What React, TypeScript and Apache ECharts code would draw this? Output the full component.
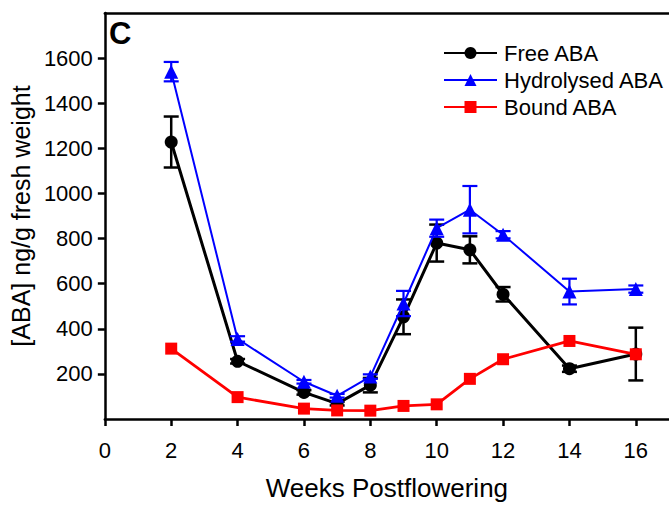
import React, { useEffect, useRef } from "react";
import * as echarts from "echarts";

// Sampling weeks after flowering
const weeks = [2, 4, 6, 7, 8, 9, 10, 11, 12, 14, 16];

// [ABA] ng/g fresh weight, means and standard errors
const freeABA = [1228, 256, 118, 68, 150, 453, 780, 750, 553, 223, 288];
const freeErr = [113, 10, 10, 8, 32, 77, 82, 60, 32, 14, 117];
const hydrolysedABA = [1540, 355, 165, 103, 188, 512, 846, 928, 817, 565, 576];
const hydrolysedErr = [43, 12, 8, 8, 10, 56, 38, 105, 16, 57, 16];
const boundABA = [312, 97, 46, 38, 37, 58, 65, 178, 265, 346, 287];

const xTicks = [0, 2, 4, 6, 8, 10, 12, 14, 16];
const yTicks = [200, 400, 600, 800, 1000, 1200, 1400, 1600];

const FONT = "Liberation Sans, Arial, sans-serif";

const pairs = (vals: number[]) => weeks.map((w, i) => [w, vals[i]]);
const errRows = (vals: number[], errs: number[]) =>
  weeks.map((w, i) => [w, vals[i] - errs[i], vals[i] + errs[i]]);

const errorBarSeries = (
  rows: number[][],
  color: string,
  width: number,
  z: number
) => ({
  type: "custom",
  z,
  data: rows,
  encode: { x: 0, y: [1, 2] },
  renderItem: (params: any, api: any) => {
    const lo = api.coord([api.value(0), api.value(1)]);
    const hi = api.coord([api.value(0), api.value(2)]);
    const half = 7.5;
    const style = { stroke: color, lineWidth: width };
    return {
      type: "group",
      children: [
        { type: "line", shape: { x1: lo[0], y1: lo[1], x2: hi[0], y2: hi[1] }, style },
        { type: "line", shape: { x1: lo[0] - half, y1: lo[1], x2: lo[0] + half, y2: lo[1] }, style },
        { type: "line", shape: { x1: hi[0] - half, y1: hi[1], x2: hi[0] + half, y2: hi[1] }, style },
      ],
    };
  },
});

export default function App() {
  const ref = useRef<HTMLDivElement>(null);

  useEffect(() => {
    if (!ref.current) return;
    const chart = echarts.init(ref.current, undefined, { renderer: "svg" });

    const axisLine = { show: true, lineStyle: { color: "#000", width: 2.5 } };

    chart.setOption({
      animation: false,
      backgroundColor: "#fff",
      textStyle: { fontFamily: FONT },
      grid: { left: 104, right: -3.6, top: 13, bottom: 87, containLabel: false },
      graphic: [
        {
          type: "text",
          left: 109,
          top: 18,
          style: {
            text: "C",
            fontFamily: FONT,
            fontSize: 31,
            fontWeight: "bold",
            fill: "#000",
          },
        },
      ],
      legend: {
        orient: "vertical",
        left: 438,
        top: 37,
        itemWidth: 53,
        itemHeight: 15,
        itemGap: 5,
        data: ["Free ABA", "Hydrolysed ABA", "Bound ABA"],
        textStyle: {
          fontFamily: FONT,
          fontSize: 22,
          color: "#000",
          padding: [0, 0, 0, 2],
        },
      },
      xAxis: [
        {
          type: "value",
          min: 0,
          max: 17,
          interval: 2,
          position: "bottom",
          name: "Weeks Postflowering",
          nameLocation: "middle",
          nameGap: 56,
          nameTextStyle: { fontFamily: FONT, fontSize: 26, color: "#000" },
          axisLine,
          axisTick: {
            show: true,
            length: 7,
            customValues: xTicks,
            lineStyle: { color: "#000", width: 2.5 },
          },
          axisLabel: {
            customValues: xTicks,
            margin: 20,
            fontFamily: FONT,
            fontSize: 22,
            color: "#000",
            formatter: (v: number) => (xTicks.includes(v) ? String(v) : ""),
          },
          splitLine: { show: false },
        },
        {
          type: "value",
          min: 0,
          max: 17,
          position: "top",
          axisLine,
          axisTick: { show: false },
          axisLabel: { show: false },
          splitLine: { show: false },
        },
      ],
      yAxis: {
        type: "value",
        min: 0,
        max: 1800,
        interval: 200,
        name: "[ABA] ng/g fresh weight",
        nameLocation: "middle",
        nameRotate: 90,
        nameGap: 68,
        nameTextStyle: { fontFamily: FONT, fontSize: 25, color: "#000" },
        axisLine,
        axisTick: {
          show: true,
          length: 7,
          customValues: yTicks,
          lineStyle: { color: "#000", width: 2.5 },
        },
        axisLabel: {
          customValues: yTicks,
          margin: 12,
          fontFamily: FONT,
          fontSize: 22,
          color: "#000",
          formatter: (v: number) => (yTicks.includes(v) ? String(v) : ""),
        },
        splitLine: { show: false },
      },
      series: [
        errorBarSeries(errRows(freeABA, freeErr), "#000", 2.5, 2),
        {
          name: "Free ABA",
          type: "line",
          z: 3,
          data: pairs(freeABA),
          symbol: "circle",
          symbolSize: 13,
          lineStyle: { color: "#000", width: 3 },
          itemStyle: { color: "#000" },
        },
        errorBarSeries(errRows(hydrolysedABA, hydrolysedErr), "#0000ff", 2.2, 4),
        {
          name: "Hydrolysed ABA",
          type: "line",
          z: 5,
          data: pairs(hydrolysedABA),
          symbol: "triangle",
          symbolSize: 14,
          lineStyle: { color: "#0000ff", width: 2 },
          itemStyle: { color: "#0000ff" },
        },
        {
          name: "Bound ABA",
          type: "line",
          z: 6,
          data: pairs(boundABA),
          symbol: "rect",
          symbolSize: 12,
          lineStyle: { color: "#ff0000", width: 2.8 },
          itemStyle: { color: "#ff0000" },
        },
      ],
    });

    return () => chart.dispose();
  }, []);

  return (
    <div
      ref={ref}
      style={{ position: "fixed", left: 0, top: 0, width: 669, height: 506 }}
    />
  );
}
